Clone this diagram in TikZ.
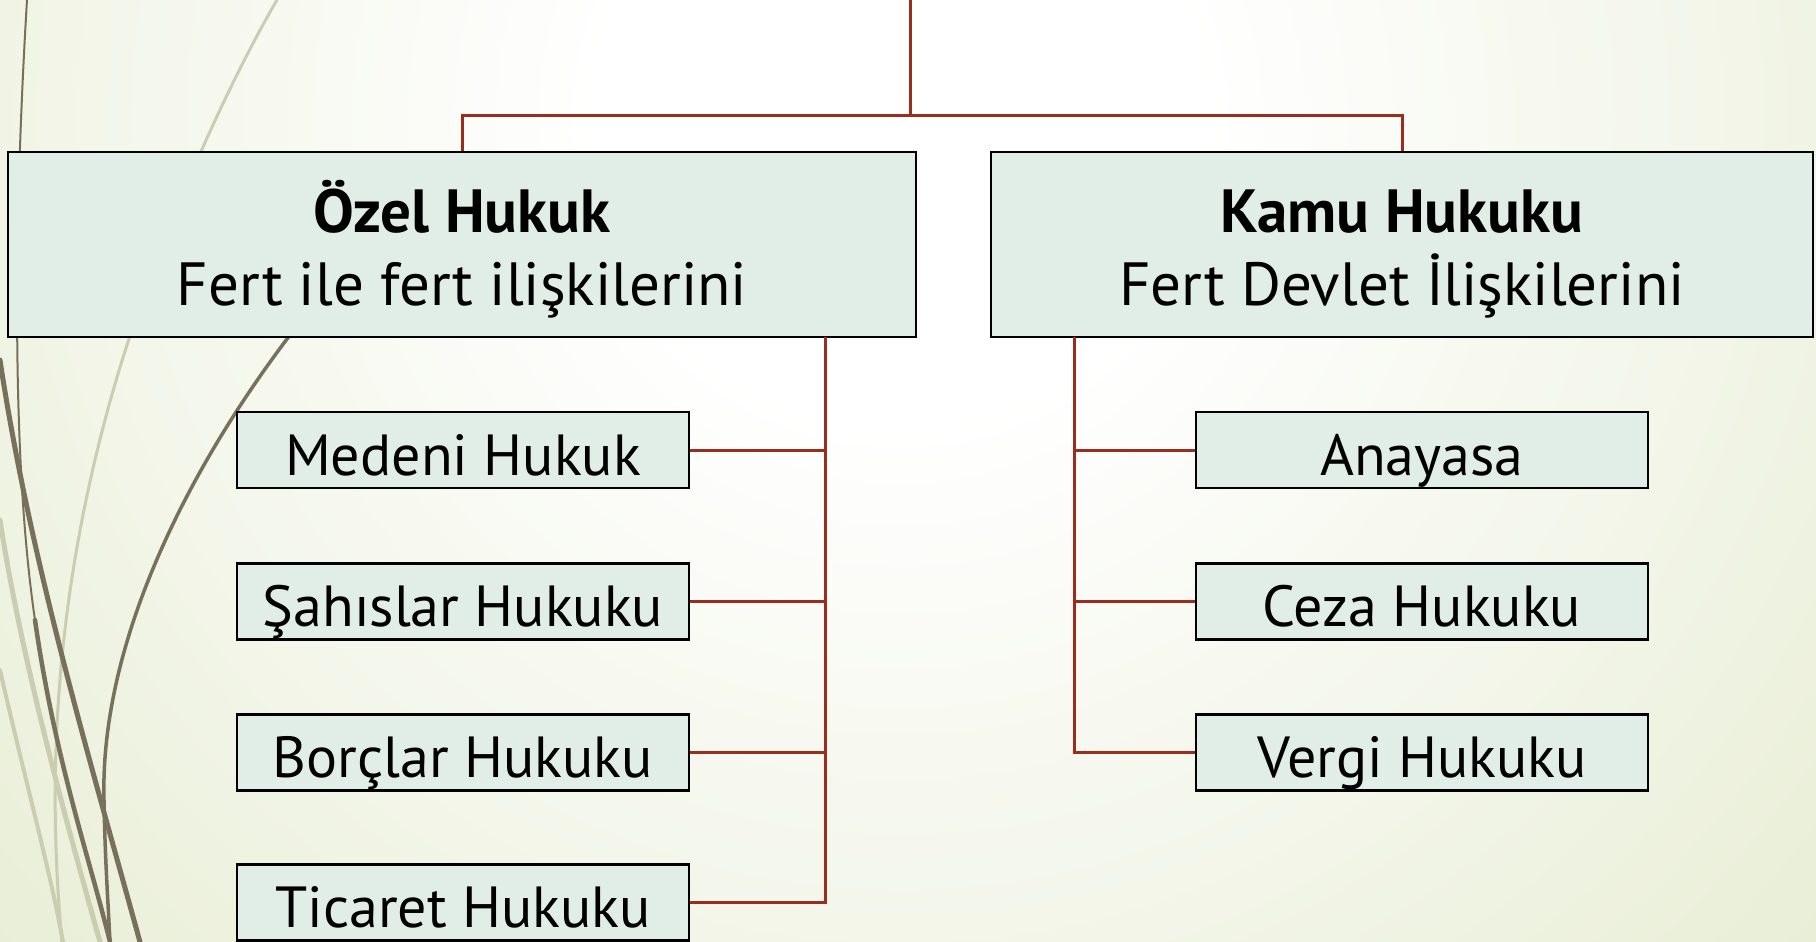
\documentclass[tikz,border=0pt]{standalone}
\usepackage{fontspec}
\setmainfont{PT Sans}
\definecolor{bggreen}{HTML}{DEE6C3}
\definecolor{boxfill}{HTML}{E1EEE8}
\definecolor{connred}{HTML}{9B2D1C}
\definecolor{wispdark}{HTML}{78705A}
\definecolor{wisplight}{HTML}{CACDB0}
\pgfdeclareradialshading{bgshade}{\pgfpointorigin}{color(0bp)=(white); color(5bp)=(white); color(28bp)=(bggreen); color(50bp)=(bggreen)}
\newcommand{\topstrut}{\rule{0pt}{68pt}}
\newcommand{\botstrut}{\rule[-20pt]{0pt}{20pt}}
\begin{document}
\begin{tikzpicture}[x=1pt,y=-1pt,
  box/.style={draw=black, line width=2.5pt, fill=boxfill, inner sep=0pt, align=center, text=black},
  bigbox/.style={box, minimum height=185pt, font=\fontsize{61}{73}\selectfont},
  smallbox/.style={box, minimum width=452pt, minimum height=76pt, text height=60pt, text depth=10pt, font=\fontsize{58}{70}\selectfont},
  conn/.style={draw=connred, line width=3pt},
  wispd/.style={draw=wispdark, line cap=round},
  wispl/.style={draw=wisplight, line cap=round}]
\useasboundingbox (0,0) rectangle (1816,942);
\begin{scope}
\clip (0,0) rectangle (1816,942);
\shade[shading=bgshade] (900,120) circle (1500pt);
% wisp curves
\draw[wispl, line width=3pt] (277,0) .. controls (230,80) and (150,250) .. (105,420) .. controls (60,590) and (45,760) .. (62,942);
\draw[wispl, line width=5pt] (0,520) .. controls (20,650) and (60,800) .. (100,942);
\draw[wispl, line width=4pt] (0,670) .. controls (25,780) and (50,870) .. (63,942);
\draw[wispd, line width=2pt] (27,0) .. controls (15,200) and (10,450) .. (35,620);
\draw[wispd, line width=4.5pt] (35,620) .. controls (55,760) and (90,860) .. (110,942);
\draw[wispd, line width=5pt] (0,360) .. controls (30,560) and (90,760) .. (140,942);
\draw[wispd, line width=3.5pt] (290,335) .. controls (180,480) and (100,650) .. (104,800) .. controls (105,860) and (108,900) .. (110,942);
\end{scope}
% top connectors
\coordinate (root) at (910,0);
\coordinate (bar) at (910,115);
\node[bigbox, minimum width=908pt] (ozel) at (462,244.5) {\topstrut\textbf{Özel Hukuk}\\Fert ile fert ilişkilerini\botstrut};
\node[bigbox, minimum width=822pt] (kamu) at (1402,244.5) {\topstrut\textbf{Kamu Hukuku}\\Fert Devlet İlişkilerini\botstrut};
\draw[conn] (root) -- (bar);
\draw[conn] (ozel.north) |- (bar) -| (kamu.north);
% left children
\node[smallbox] (medeni) at (463,450) {Medeni Hukuk};
\node[smallbox] (sahis) at (463,601.5) {Şahıslar Hukuku};
\node[smallbox] (borc) at (463,752.5) {Borçlar Hukuku};
\node[smallbox] (ticaret) at (463,902.5) {Ticaret Hukuku};
% right children
\node[smallbox] (anayasa) at (1422,450) {Anayasa};
\node[smallbox] (ceza) at (1422,601.5) {Ceza Hukuku};
\node[smallbox] (vergi) at (1422,752.5) {Vergi Hukuku};
% spines
\coordinate (ls) at (825,337);
\coordinate (rs) at (1074,337);
\draw[conn] (ls) -- (ls |- ticaret.east) -- (ticaret.east);
\draw[conn] (medeni.east) -- (medeni.east -| ls);
\draw[conn] (sahis.east) -- (sahis.east -| ls);
\draw[conn] (borc.east) -- (borc.east -| ls);
\draw[conn] (rs) -- (rs |- vergi.west) -- (vergi.west);
\draw[conn] (anayasa.west) -- (anayasa.west -| rs);
\draw[conn] (ceza.west) -- (ceza.west -| rs);
\end{tikzpicture}
\end{document}
